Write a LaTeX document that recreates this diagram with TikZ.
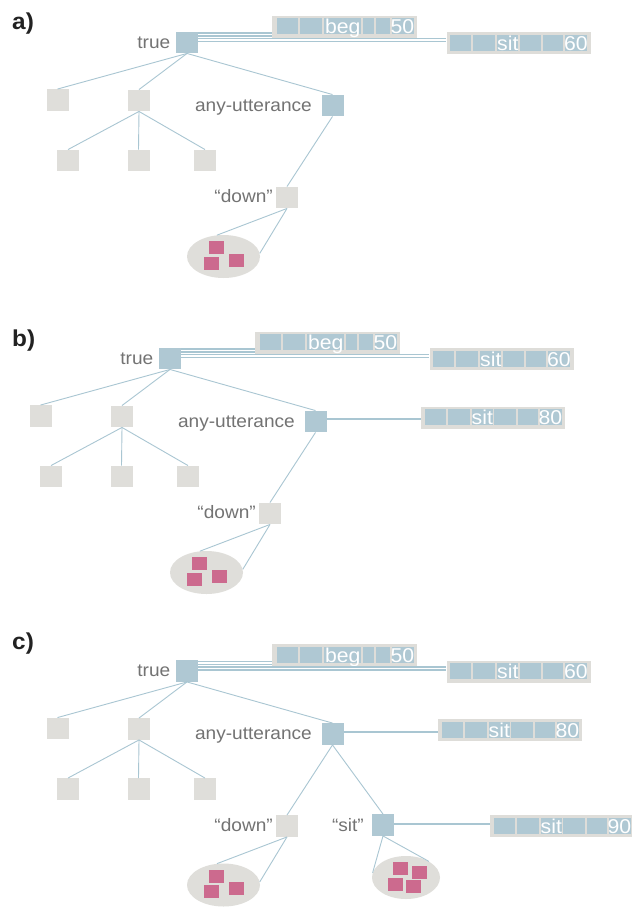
\documentclass[tikz,border=0pt]{standalone}
\usepackage{fontspec}
\setmainfont{Liberation Sans}[FakeStretch=1.06]
\usetikzlibrary{shapes.geometric,calc}
\definecolor{boxblue}{HTML}{AFC8D3}
\definecolor{boxgray}{HTML}{DFDEDA}
\definecolor{bargray}{HTML}{DEDDD9}
\definecolor{boxpink}{HTML}{CC6A8E}
\definecolor{linecol}{HTML}{A9C6D2}
\definecolor{txtgray}{HTML}{737373}
\definecolor{labdark}{HTML}{222222}
\tikzset{
 bluesq/.style={rectangle, fill=boxblue, minimum width=22pt, minimum height=21.5pt, inner sep=0pt},
 graysq/.style={rectangle, fill=boxgray, minimum width=22pt, minimum height=21.5pt, inner sep=0pt},
 bag/.style={ellipse, fill=boxgray, minimum width=73pt, minimum height=43pt, inner sep=0pt},
 chip/.style={rectangle, fill=boxpink, minimum width=15pt, minimum height=13pt, inner sep=0pt},
 treeline/.style={draw=linecol, line width=0.9pt},
 dbl/.style={draw=linecol, line width=1.4pt, double=white, double distance=1.4pt},
 unoline/.style={draw=linecol, line width=1.8pt},
 lab/.style={font=\fontsize{18}{20}\selectfont, text=txtgray, inner sep=0pt, anchor=base east},
 panel/.style={font=\fontsize{23}{26}\selectfont\bfseries, text=labdark, inner sep=0pt, anchor=base west},
 barbox/.style={rectangle, fill=bargray, minimum width=144pt, minimum height=22pt, inner sep=0pt},
 bartext/.style={font=\fontsize{20}{22}\selectfont, text=white, inner sep=0pt},
}
% sit-type record bar: name, x, y, word, number
\newcommand\sitbar[5]{%
 \node[barbox] (#1) at (#2,#3) {};
 \begin{scope}[shift={(#1.north west)}]
  \fill[boxblue] (4,3) rectangle (25,19);
  \fill[boxblue] (27,3) rectangle (49,19);
  \fill[boxblue] (51,3) rectangle (72,19);
  \fill[boxblue] (73.5,3) rectangle (95,19);
  \fill[boxblue] (97,3) rectangle (117,19);
  \fill[boxblue] (119,3) rectangle (141,19);
  \node[bartext, anchor=base] (#1-w) at (61.5,18.5) {#4};
  \node[bartext, anchor=base east] (#1-n) at (141.5,18.5) {#5};
 \end{scope}}
% beg-type record bar: name, x, y
\newcommand\begbar[3]{%
 \node[barbox, minimum width=145pt] (#1) at (#2,#3) {};
 \begin{scope}[shift={(#1.north west)}]
  \fill[boxblue] (5,3) rectangle (26,19);
  \fill[boxblue] (28,3) rectangle (50,19);
  \fill[boxblue] (52,3) rectangle (89,19);
  \fill[boxblue] (91,3) rectangle (102,19);
  \fill[boxblue] (104,3) rectangle (118,19);
  \fill[boxblue] (120,3) rectangle (142,19);
  \node[bartext, anchor=base] (#1-w) at (71,18.5) {beg};
  \node[bartext, anchor=base east] (#1-n) at (142.5,18.5) {50};
 \end{scope}}
% common tree: prefix, dx, dy
\newcommand\basetree[3]{%
 \begin{scope}[shift={(#2,#3)}]
  \node[bluesq] (#1T) at (187,42.5) {};
  \node[lab] (#1Tl) at (170.5,48) {true};
  \node[graysq] (#1L1) at (57.5,100) {};
  \node[graysq] (#1L2) at (139,100.5) {};
  \node[graysq] (#1M1) at (68,160.5) {};
  \node[graysq] (#1M2) at (138.5,160.5) {};
  \node[graysq] (#1M3) at (205,160.5) {};
  \node[bluesq] (#1A) at (332.5,105.5) {};
  \node[lab] (#1Al) at (312,111) {any-utterance};
  \node[graysq] (#1D) at (287,197.5) {};
  \node[lab] (#1Dl) at (273,202.5) {“down”};
  \node[bag] (#1E) at (223.5,256.5) {};
  \node[chip] (#1p1) at (216.5,247.5) {};
  \node[chip] (#1p2) at (211.5,263) {};
  \node[chip] (#1p3) at (236.5,260) {};
  \begbar{#1beg}{344.5}{26.5}
  \sitbar{#1s60}{518.5}{43}{sit}{60}
 \end{scope}
 \draw[treeline] (#1T.south) -- (#1L1.north);
 \draw[treeline] (#1T.south) -- (#1L2.north);
 \draw[treeline] (#1T.south) -- (#1A.north);
 \draw[treeline] (#1L2.south) -- (#1M1.north);
 \draw[treeline] (#1L2.south) -- (#1M2.north);
 \draw[treeline] (#1L2.south) -- (#1M3.north);
 \draw[treeline] (#1A.south) -- (#1D.north);
 \draw[treeline] (#1D.south) -- (#1E.107);
 \draw[treeline] (#1D.south) -- (#1E.5);
 \coordinate (#1ta) at ([yshift=8pt]#1T.east);
 \coordinate (#1tb) at ([yshift=2.5pt]#1T.east);
 \draw[dbl] (#1ta) -- (#1ta -| #1beg.west);
 \draw[dbl] (#1tb) -- (#1tb -| #1s60.west);
}
\begin{document}
\begin{tikzpicture}[x=1pt,y=-1pt]
\useasboundingbox (0,0) rectangle (632,908);
\fill[white] (0,0) rectangle (632,908);
% panel a
\node[panel] (la) at (12,29) {a)};
\basetree{a}{0}{0}
% panel b
\node[panel] (lb) at (12,346.5) {b)};
\basetree{b}{-17}{316}
\begin{scope}[shift={(-17,316)}]
 \sitbar{bs80}{510}{101.5}{sit}{80}
\end{scope}
\coordinate (bac) at ([yshift=2.5pt]bA.east);
\draw[unoline] (bac) -- (bac -| bs80.west);
% panel c
\node[panel] (lc) at (12,649) {c)};
\basetree{c}{0}{628.5}
\begin{scope}[shift={(0,628.5)}]
 \sitbar{cs80}{510}{101.5}{sit}{80}
 \node[bluesq] (cS) at (383,196.5) {};
 \node[lab] (cSl) at (364,202.5) {“sit”};
 \node[bag, minimum width=68pt] (cF) at (406,249) {};
 \node[chip] (cq1) at (400.5,240) {};
 \node[chip] (cq2) at (419,243.5) {};
 \node[chip] (cq3) at (395,256) {};
 \node[chip] (cq4) at (413.5,258) {};
 \sitbar{cs90}{562}{197.5}{sit}{90}
\end{scope}
\coordinate (cac) at ([yshift=2pt]cA.east);
\draw[unoline] (cac) -- (cac -| cs80.west);
\draw[treeline] (cA.south) -- (cS.north);
\draw[treeline] (cS.south) -- (cF.172);
\draw[treeline] (cS.south) -- (cF.35);
\coordinate (csc) at ([yshift=1pt]cS.east);
\draw[unoline] (csc) -- (csc -| cs90.west);
\end{tikzpicture}
\end{document}
